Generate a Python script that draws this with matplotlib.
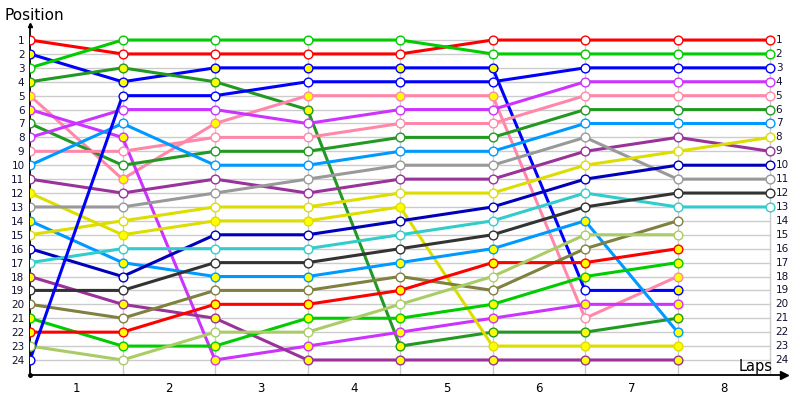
#!/usr/bin/env python3
"""Lap chart: race position of 24 cars over 8 laps."""
import numpy as np
import matplotlib
matplotlib.use("Agg")
import matplotlib.pyplot as plt

laps = [0, 1, 2, 3, 4, 5, 6, 7, 8]
lap_labels = ["1", "2", "3", "4", "5", "6", "7", "8"]
n_pos = 24

colors = [
    "#ff0000", "#0000ff", "#00cc00", "#229922", "#ff88aa", "#cc33ff",
    "#229922", "#cc33ff", "#ff88aa", "#0099ff", "#993399", "#dddd00",
    "#999999", "#0099ff", "#dddd00", "#0000bb", "#33cccc", "#993399",
    "#333333", "#808040", "#00cc00", "#ff0000", "#aacc66", "#0000ff",
]

# position after each lap (None = lapped, did not finish lap 8)
positions = [
    [1, 2, 2, 2, 2, 1, 1, 1, 1],
    [2, 4, 3, 3, 3, 3, 19, 19, None],
    [3, 1, 1, 1, 1, 2, 2, 2, 2],
    [4, 3, 4, 6, 23, 22, 22, 21, None],
    [5, 11, 7, 5, 5, 5, 21, 18, None],
    [6, 8, 24, 23, 22, 21, 20, 20, None],
    [7, 10, 9, 9, 8, 8, 6, 6, 6],
    [8, 6, 6, 7, 6, 6, 4, 4, 4],
    [9, 9, 8, 8, 7, 7, 5, 5, 5],
    [10, 7, 10, 10, 9, 9, 7, 7, 7],
    [11, 12, 11, 12, 11, 11, 9, 8, 9],
    [12, 15, 14, 14, 13, 23, 23, 23, None],
    [13, 13, 12, 11, 10, 10, 8, 11, 11],
    [14, 17, 18, 18, 17, 16, 14, 22, None],
    [15, 14, 13, 13, 12, 12, 10, 9, 8],
    [16, 18, 15, 15, 14, 13, 11, 10, 10],
    [17, 16, 16, 16, 15, 14, 12, 13, 13],
    [18, 20, 21, 24, 24, 24, 24, 24, None],
    [19, 19, 17, 17, 16, 15, 13, 12, 12],
    [20, 21, 19, 19, 18, 19, 16, 14, None],
    [21, 23, 23, 21, 21, 20, 18, 17, None],
    [22, 22, 20, 20, 19, 17, 17, 16, None],
    [23, 24, 22, 22, 20, 18, 15, 15, None],
    [24, 5, 5, 4, 4, 4, 3, 3, 3],
]

# 1 = yellow marker at that lap
highlight = [
    [0, 0, 0, 0, 0, 0, 0, 0, 0],
    [1, 1, 1, 1, 1, 1, 0, 1, 0],
    [0, 0, 0, 0, 0, 0, 0, 0, 0],
    [1, 1, 1, 1, 1, 1, 1, 1, 0],
    [1, 1, 1, 1, 1, 1, 0, 1, 0],
    [1, 1, 1, 1, 1, 1, 1, 1, 0],
    [0, 0, 0, 0, 0, 0, 0, 0, 0],
    [0, 0, 0, 0, 0, 0, 0, 0, 0],
    [0, 0, 0, 0, 0, 0, 0, 0, 0],
    [0, 0, 0, 0, 0, 0, 0, 0, 0],
    [0, 0, 0, 0, 0, 0, 0, 0, 0],
    [1, 1, 1, 1, 1, 1, 1, 1, 0],
    [0, 0, 0, 0, 0, 0, 0, 0, 0],
    [1, 1, 1, 1, 1, 1, 1, 1, 0],
    [0, 0, 0, 0, 0, 0, 0, 0, 0],
    [0, 0, 0, 0, 0, 0, 0, 0, 0],
    [0, 0, 0, 0, 0, 0, 0, 0, 0],
    [1, 1, 1, 1, 1, 1, 1, 1, 0],
    [0, 0, 0, 0, 0, 0, 0, 0, 0],
    [0, 0, 0, 0, 0, 0, 0, 0, 0],
    [1, 1, 1, 1, 1, 1, 1, 1, 0],
    [1, 1, 1, 1, 1, 1, 1, 1, 0],
    [0, 0, 0, 0, 0, 0, 0, 0, 0],
    [0, 0, 0, 0, 0, 0, 0, 0, 0],
]


def main():
    fig = plt.figure(figsize=(8, 4), dpi=100)
    ax = fig.add_axes([0.0375, 0.0625, 0.9425, 0.875])
    ax.set_xlim(0, 8.15)
    ax.set_ylim(n_pos + 1.08, -0.08)

    # grid
    for p in range(1, n_pos + 1):
        ax.plot([0, 8], [p, p], color="#cccccc", lw=1, zorder=1)
    for lap in laps[1:]:
        ax.plot([lap, lap], [n_pos + 1.08, 1], color="#cccccc", lw=1, zorder=1)

    for col, pos in zip(colors, positions):
        x = [l for l, p in zip(laps, pos) if p is not None]
        y = [p for p in pos if p is not None]
        ax.plot(x, y, color=col, lw=2.2, zorder=2)

    for col, pos, hl in zip(colors, positions, highlight):
        for l, p, h in zip(laps, pos, hl):
            if p is None:
                continue
            ax.plot(l, p, "o", ms=6.3, mfc="#ffff00" if h else "white",
                    mec=col, mew=1.0, zorder=3)

    ax.set_yticks(range(1, n_pos + 1))
    ax.set_yticklabels([str(p) for p in range(1, n_pos + 1)], fontsize=7.5,
                       color="#101030")
    for p in range(1, n_pos + 1):
        ax.text(8.06, p, str(p), fontsize=7.5, color="#101030",
                ha="left", va="center")
    ax.set_xticks([l + 0.5 for l in laps[:-1]])
    ax.set_xticklabels(lap_labels, fontsize=8.5)
    ax.tick_params(length=0)
    ax.tick_params(axis="y", pad=4)
    ax.tick_params(axis="x", pad=5)

    for s in ["top", "right"]:
        ax.spines[s].set_visible(False)
    ax.spines["left"].set_linewidth(1.3)
    ax.spines["bottom"].set_linewidth(1.3)
    ax.plot(1, 0, ">k", ms=6, transform=ax.transAxes, clip_on=False)
    ax.plot(0, 1, "^k", ms=3, transform=ax.transAxes, clip_on=False)
    ax.plot(0, 0, "ok", ms=2.5, transform=ax.transAxes, clip_on=False)

    fig.text(0.006, 0.96, "Position", fontsize=11, ha="left", va="center")
    ax.text(7.66, 24.45, "Laps", fontsize=10.5, ha="left", va="center")

    fig.savefig("out.png", dpi=100, facecolor="white")
    plt.close(fig)


if __name__ == "__main__":
    main()
